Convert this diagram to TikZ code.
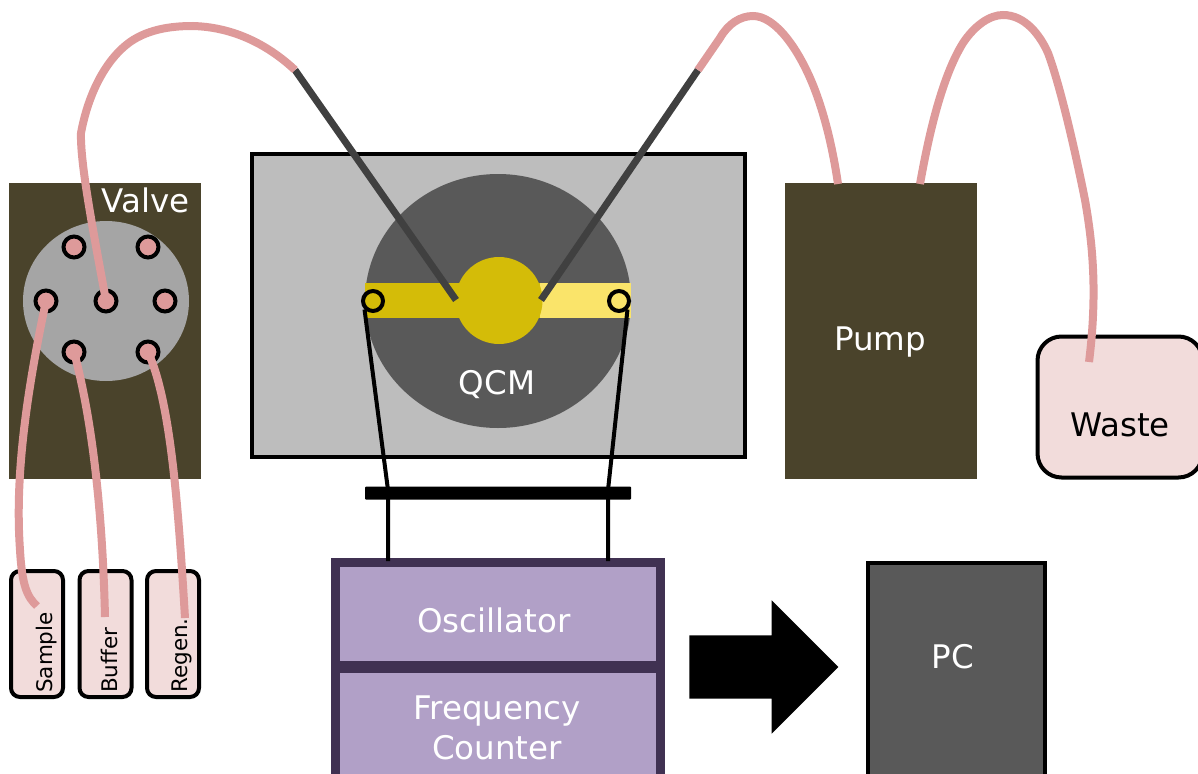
\documentclass[tikz,border=0pt]{standalone}
\usepackage{xcolor}
\usepackage{fontspec}
\setmainfont{DejaVu Sans}
\usetikzlibrary{positioning,arrows.meta,shapes.arrows,shapes.geometric}
\definecolor{tubepink}{HTML}{DE9A9A}
\definecolor{vialpink}{HTML}{F2DCDB}
\definecolor{olivebox}{HTML}{4A432B}
\definecolor{qcmgrey}{HTML}{595959}
\definecolor{cellgrey}{HTML}{BDBDBD}
\definecolor{valvegrey}{HTML}{A5A5A5}
\definecolor{darkgold}{HTML}{D4BC08}
\definecolor{lightgold}{HTML}{FAE46A}
\definecolor{oscfill}{HTML}{B1A0C7}
\definecolor{oscline}{HTML}{403152}
\definecolor{probegrey}{HTML}{404040}

\begin{document}
\begin{tikzpicture}[
  x=1pt, y=-1pt,
  olive/.style={draw=none, fill=olivebox, inner sep=0pt},
  lab/.style={text=white, font=\fontsize{32.5}{40}\selectfont, inner sep=0pt},
  disc/.style={ellipse, draw=none, inner sep=0pt},
  port/.style={circle, draw=black, line width=4pt, fill=tubepink, minimum size=21pt, inner sep=0pt},
  pad/.style={circle, draw=black, line width=4pt, minimum size=20pt, inner sep=0pt},
  vial/.style={draw=black, line width=4pt, fill=vialpink, rounded corners=9pt, minimum width=52pt, minimum height=126pt, inner sep=0pt},
  osc/.style={draw=oscline, line width=9pt, fill=oscfill, minimum width=325pt, inner sep=0pt},
  tube/.style={draw=tubepink, line width=8pt},
  probe/.style={draw=probegrey, line width=7pt},
  wire/.style={draw=black, line width=4pt},
  vlab/.style={rotate=90, anchor=west, font=\fontsize{21.5}{26}\selectfont, inner sep=0pt}
]
\useasboundingbox (0,0) rectangle (1198,773);

\node[olive, minimum width=192pt, minimum height=296pt] (valve) at (105,331) {};
\node[lab, anchor=base] (valvelabel) at (145.5,212) {Valve};
\node[disc, fill=valvegrey, minimum width=166pt, minimum height=160pt] (rotor) at (106,301) {};
\node[port] (ptl) at (74,247) {};
\node[port] (ptr) at (148,247) {};
\node[port] (pml) at (46,301) {};
\node[port] (pmc) at (106,301) {};
\node[port] (pmr) at (165,301) {};
\node[port] (pbl) at (74,352) {};
\node[port] (pbr) at (148,352) {};

\node[draw=black, line width=4pt, fill=cellgrey, minimum width=493pt, minimum height=303pt, inner sep=0pt] (cell) at (498.5,305) {};
\node[disc, fill=qcmgrey, minimum width=266pt, minimum height=254pt] (qcm) at (498,301) {};
\node[fill=darkgold, minimum width=175pt, minimum height=35pt, inner sep=0pt, anchor=west] (bandl) at (365,300.5) {};
\node[fill=lightgold, minimum width=91pt, minimum height=35pt, inner sep=0pt, anchor=west] (bandr) at (540,300.5) {};
\node[disc, fill=darkgold, minimum width=87pt, minimum height=87pt] (crystal) at (499,300.5) {};
\node[pad] (padl) at (373,301) {};
\node[pad] (padr) at (619,301) {};
\node[lab] (qcmlabel) at (497,385) {QCM};

\node[olive, minimum width=192pt, minimum height=296pt] (pump) at (881,331) {};
\node[lab] (pumplabel) at (880,342) {Pump};
\node[draw=black, line width=4pt, fill=vialpink, rounded corners=24pt, minimum width=165pt, minimum height=141pt,
      inner sep=0pt] (waste) at (1120,407) {};
\node[lab, text=black] (wastelabel) at (1120,425) {Waste};

\node[vial] (sample) at (37,634) {};
\node[vial] (buffer) at (105.5,634) {};
\node[vial] (regen) at (173,634) {};
\node[vlab] (samplelabel) at (47,693) {Sample};
\node[vlab] (bufferlabel) at (109,693) {Buffer};
\node[vlab] (regenlabel) at (182,693) {Regen.};

\node[osc, minimum height=103pt] (oscillator) at (498,614) {};
\node[osc, minimum height=110pt] (counter) at (498,723.5) {};
\node[lab] (oscillatorlabel) at (494,620) {Oscillator};
\node[lab, align=center] (counterlabel) at (497,728) {Frequency\\Counter};
\node[draw=black, line width=4pt, fill=qcmgrey, minimum width=177pt, minimum height=216pt, inner sep=0pt,
      anchor=north] (pc) at (956,561) {};
\node[lab] (pclabel) at (953,657) {PC};
\node[fill=black, rounded corners=1pt, minimum width=266pt, minimum height=13pt, inner sep=0pt] (clamp) at (498,493) {};

\coordinate (probelin) at (295,70);
\coordinate (probelout) at (456,300);
\coordinate (proberin) at (698,70);
\coordinate (proberout) at (541,300);
\coordinate (pumpin) at (838,184);
\coordinate (pumpout) at (920,184);
\coordinate (wasteend) at (1089,362);
\coordinate (sampleend) at (37,606);
\coordinate (bufferend) at (105,617);
\coordinate (regenend) at (185,618);
\coordinate (oscl) at (388,561);
\coordinate (oscr) at (608,561);
\coordinate (clampl) at (388,490);
\coordinate (clampr) at (608,490);

\draw[probe] (probelin) -- (probelout);
\draw[probe] (proberin) -- (proberout);
\draw[wire] (padl.south west) -- (clampl) -- (oscl);
\draw[wire] (padr.south east) -- (clampr) -- (oscr);

\draw[tube] (pmc.center) .. controls (95,240) and (80,165) .. (81,133)
  .. controls (88,95) and (105,60) .. (130,42)
  .. controls (150,28) and (175,26) .. (193,26)
  .. controls (230,27) and (265,42) .. (probelin);
\draw[tube] (proberin) -- (720,38) .. controls (728,24) and (740,16) .. (753,16)
  .. controls (775,16) and (798,48) .. (813,85)
  .. controls (825,115) and (833,150) .. (pumpin);
\draw[tube] (pumpout) .. controls (927,145) and (940,80) .. (963,43)
  .. controls (975,25) and (990,15) .. (1003,15)
  .. controls (1025,15) and (1040,35) .. (1048,53)
  .. controls (1060,85) and (1075,150) .. (1085,200)
  .. controls (1092,240) and (1098,290) .. (wasteend);
\draw[tube] (pml.center) .. controls (25,400) and (15,480) .. (20,550)
  .. controls (22,585) and (27,597) .. (sampleend);
\draw[tube] (pbl.center) .. controls (95,430) and (103,530) .. (bufferend);
\draw[tube] (pbr.center) .. controls (170,400) and (178,500) .. (regenend);

\node[fill=black, single arrow, single arrow head extend=35pt, single arrow tip angle=90,
      minimum height=149pt, inner xsep=0pt, inner ysep=31.5pt, single arrow head indent=0pt] (toPC) at (748,667) {};
\end{tikzpicture}
\end{document}
